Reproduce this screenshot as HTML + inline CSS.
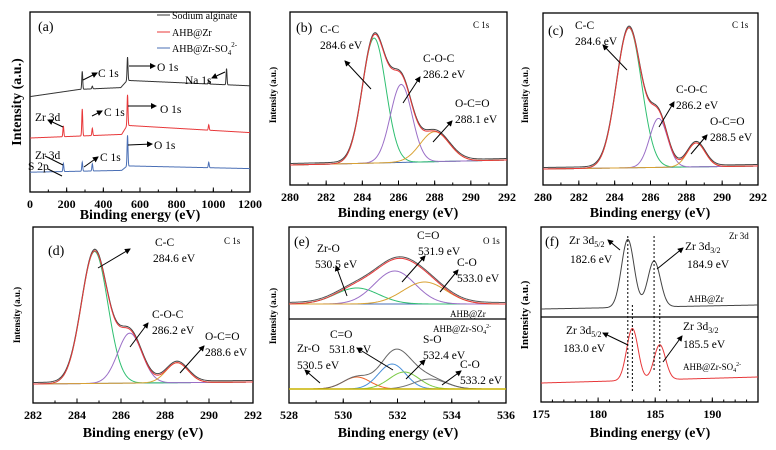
<!DOCTYPE html>
<html><head><meta charset="utf-8">
<style>
body{margin:0;background:#fff;}
svg,text,tspan{font-family:"Liberation Serif","DejaVu Serif",serif;}
.tk{font-weight:bold;font-size:12px;text-anchor:middle;}
.ttl{font-weight:bold;font-size:14px;text-anchor:middle;}
.yt{font-weight:bold;font-size:9px;text-anchor:middle;}
.an{font-size:11.5px;}
.sm{font-size:9px;}
</style></head>
<body>
<svg id="fig" width="776" height="445" viewBox="0 0 776 445" xmlns="http://www.w3.org/2000/svg" font-family="Liberation Serif, DejaVu Serif, serif">
<defs><marker id="ar" markerWidth="6" markerHeight="6" refX="5" refY="3" orient="auto"><path d="M0,0L6,3L0,6z" fill="#000"/></marker></defs>
<g id="layer"></g>
<g>
<text x="38" y="31" style="font-size:14px">(a)</text>
<line x1="157" y1="15" x2="170" y2="15" stroke="#333"/><text x="172" y="19" class="sm" style="font-size:10px">Sodium alginate</text>
<line x1="157" y1="32" x2="170" y2="32" stroke="#e8383a"/><text x="172" y="36" class="sm" style="font-size:10px">AHB@Zr</text>
<line x1="157" y1="48" x2="170" y2="48" stroke="#4a6fb5"/><text x="172" y="52" class="sm" style="font-size:10px">AHB@Zr-SO<tspan font-size="7" dy="3">4</tspan><tspan font-size="7" dy="-8">2-</tspan></text>
<text x="98" y="77" class="an">C 1s</text><text x="157" y="71" class="an">O 1s</text><text x="185" y="84" class="an">Na 1s</text>
<text x="35" y="121" class="an">Zr 3d</text><text x="104" y="116" class="an">C 1s</text><text x="160" y="113" class="an">O 1s</text>
<text x="35" y="159" class="an">Zr 3d</text><text x="28" y="170" class="an">S 2p</text><text x="100" y="161" class="an">C 1s</text><text x="154" y="149" class="an">O 1s</text>
<text transform="translate(21,102) rotate(-90)" class="ttl">Intensity (a.u.)</text>
<text x="140" y="219" class="ttl">Binding energy (eV)</text>
<line x1="83" y1="80" x2="97" y2="73" stroke="#000" marker-end="url(#ar)"/>
<line x1="129" y1="66" x2="155" y2="66" stroke="#000" marker-end="url(#ar)"/>
<line x1="225" y1="72" x2="212" y2="78" stroke="#000" marker-end="url(#ar)"/>
<line x1="92" y1="116" x2="102" y2="111" stroke="#000" marker-end="url(#ar)"/>
<line x1="128" y1="106" x2="156" y2="106" stroke="#000" marker-end="url(#ar)"/>
<line x1="63" y1="127" x2="48" y2="120" stroke="#000" marker-end="url(#ar)"/>
<line x1="84" y1="167" x2="98" y2="157" stroke="#000" marker-end="url(#ar)"/>
<line x1="128" y1="145" x2="152" y2="144" stroke="#000" marker-end="url(#ar)"/>
<line x1="63" y1="165" x2="45" y2="156" stroke="#000"/><line x1="62" y1="176" x2="48" y2="169" stroke="#000"/>
</g>
<g>
<text x="296" y="32" style="font-size:14px">(b)</text>
<text x="320" y="33" class="an">C-C</text><text x="320" y="49" class="an">284.6 eV</text>
<text x="423" y="62" class="an">C-O-C</text><text x="423" y="78" class="an">286.2 eV</text>
<text x="455" y="107" class="an">O-C=O</text><text x="455" y="123" class="an">288.1 eV</text>
<text x="473" y="28" class="sm">C 1s</text>
<text transform="translate(276,95) rotate(-90)" class="yt">Intensity (a.u.)</text>
<text x="398" y="217" class="ttl">Binding energy (eV)</text>
<line x1="371" y1="89" x2="345" y2="61" stroke="#000" marker-end="url(#ar)"/>
<line x1="403" y1="103" x2="420" y2="77" stroke="#000" marker-end="url(#ar)"/>
<line x1="433" y1="142" x2="452" y2="121" stroke="#000" marker-end="url(#ar)"/>
</g>
<g>
<text x="548" y="35" style="font-size:14px">(c)</text>
<text x="575" y="29" class="an">C-C</text><text x="575" y="45" class="an">284.6 eV</text>
<text x="676" y="93" class="an">C-O-C</text><text x="676" y="109" class="an">286.2 eV</text>
<text x="710" y="125" class="an">O-C=O</text><text x="710" y="141" class="an">288.5 eV</text>
<text x="732" y="28" class="sm">C 1s</text>
<text transform="translate(528,95) rotate(-90)" class="yt">Intensity (a.u.)</text>
<text x="650" y="217" class="ttl">Binding energy (eV)</text>
<line x1="627" y1="70" x2="603" y2="45" stroke="#000" marker-end="url(#ar)"/>
<line x1="659" y1="127" x2="674" y2="102" stroke="#000" marker-end="url(#ar)"/>
<line x1="691" y1="154" x2="707" y2="135" stroke="#000" marker-end="url(#ar)"/>
</g>
<g>
<text x="48" y="255" style="font-size:14px">(d)</text>
<text x="155" y="246" class="an">C-C</text><text x="153" y="262" class="an">284.6 eV</text>
<text x="152" y="318" class="an">C-O-C</text><text x="152" y="334" class="an">286.2 eV</text>
<text x="205" y="340" class="an">O-C=O</text><text x="205" y="356" class="an">288.6 eV</text>
<text x="224" y="244" class="sm">C 1s</text>
<text transform="translate(20,315) rotate(-90)" class="yt">Intensity (a.u.)</text>
<text x="143" y="437" class="ttl">Binding energy (eV)</text>
<line x1="98" y1="268" x2="130" y2="249" stroke="#000" marker-end="url(#ar)"/>
<line x1="130" y1="347" x2="148" y2="323" stroke="#000" marker-end="url(#ar)"/>
<line x1="180" y1="373" x2="204" y2="346" stroke="#000" marker-end="url(#ar)"/>
</g>
<g>
<text x="294" y="246" style="font-size:14px">(e)</text>
<text x="317" y="252" class="an">Zr-O</text><text x="315" y="268" class="an">530.5 eV</text>
<text x="417" y="239" class="an">C=O</text><text x="418" y="255" class="an">531.9 eV</text>
<text x="457" y="266" class="an">C-O</text><text x="457" y="282" class="an">533.0 eV</text>
<text x="483" y="244" class="sm">O 1s</text>
<text x="450" y="317" class="sm">AHB@Zr</text>
<text x="433" y="332" class="sm">AHB@Zr-SO<tspan font-size="6" dy="2">4</tspan><tspan font-size="6" dy="-6">2-</tspan></text>
<text x="330" y="338" class="an">C=O</text><text x="329" y="353" class="an">531.8 eV</text>
<text x="297" y="352" class="an">Zr-O</text><text x="297" y="369" class="an">530.5 eV</text>
<text x="423" y="343" class="an">S-O</text><text x="423" y="359" class="an">532.4 eV</text>
<text x="460" y="368" class="an">C-O</text><text x="460" y="384" class="an">533.2 eV</text>
<text transform="translate(276,316) rotate(-90)" class="yt">Intensity (a.u.)</text>
<text x="398" y="437" class="ttl">Binding energy (eV)</text>
<line x1="347" y1="296" x2="336" y2="266" stroke="#000" marker-end="url(#ar)"/>
<line x1="402" y1="282" x2="425" y2="256" stroke="#000" marker-end="url(#ar)"/>
<line x1="440" y1="292" x2="458" y2="270" stroke="#000" marker-end="url(#ar)"/>
<line x1="320" y1="383" x2="305" y2="370" stroke="#000" marker-end="url(#ar)"/>
<line x1="393" y1="370" x2="357" y2="348" stroke="#000" marker-end="url(#ar)"/>
<line x1="406" y1="379" x2="425" y2="360" stroke="#000" marker-end="url(#ar)"/>
<line x1="442" y1="385" x2="461" y2="371" stroke="#000" marker-end="url(#ar)"/>
</g>
<g>
<text x="545" y="246" style="font-size:14px">(f)</text>
<text x="569" y="244" class="an">Zr 3d<tspan font-size="8" dy="3">5/2</tspan></text><text x="570" y="263" class="an">182.6 eV</text>
<text x="685" y="250" class="an">Zr 3d<tspan font-size="8" dy="3">3/2</tspan></text><text x="687" y="268" class="an">184.9 eV</text>
<text x="729" y="239" class="sm">Zr 3d</text>
<text x="688" y="302" class="sm">AHB@Zr</text>
<text x="566" y="334" class="an">Zr 3d<tspan font-size="8" dy="3">5/2</tspan></text><text x="563" y="352" class="an">183.0 eV</text>
<text x="683" y="330" class="an">Zr 3d<tspan font-size="8" dy="3">3/2</tspan></text><text x="683" y="348" class="an">185.5 eV</text>
<text x="683" y="370" class="sm">AHB@Zr-SO<tspan font-size="6" dy="2">4</tspan><tspan font-size="6" dy="-6">2-</tspan></text>
<text transform="translate(528,315) rotate(-90)" class="yt" style="font-size:11px">Intensity (a.u.)</text>
<text x="650" y="437" class="ttl">Binding energy (eV)</text>
<line x1="620" y1="250" x2="608" y2="240" stroke="#000" marker-end="url(#ar)"/>
<line x1="657" y1="269" x2="683" y2="248" stroke="#000" marker-end="url(#ar)"/>
<line x1="628" y1="345" x2="603" y2="333" stroke="#000" marker-end="url(#ar)"/>
<line x1="663" y1="362" x2="682" y2="336" stroke="#000" marker-end="url(#ar)"/>
</g>
</svg>
<script>
const surveyBgBlack = [[0,53],[270,57],[495,58],[530,62],[1200,59]];
const surveyPkBlack = [[285,10],[532,13],[1072,9],[340,1.5],[975,2]];
const surveyBgRed = [[0,30],[500,32],[530,37],[1200,33]];
const surveyPkRed = [[182,6],[285,15],[532,17],[340,4],[975,3]];
const surveyBgBlue = [[0,11],[500,12],[530,14.5],[1200,13]];
const surveyPkBlue = [[182,4.5],[285,5],[532,17],[340,4],[975,3]];
const bPeaks = [[284.65,125,0.65],[286.15,78,0.6],[288.0,30,0.8]];
const bBg = [0,5];
const cPeaks = [[284.8,140,0.7],[286.45,49,0.5],[288.55,24,0.5]];
const cBg = [0,3];
const dPeaks = [[284.8,132,0.6],[286.4,50,0.55],[288.55,20,0.5]];
const dBg = [0,2];
const eTopPeaks = [[530.5,16,0.8],[531.9,33,0.75],[533.0,22,0.8]];
const eBotPeaks = [[530.5,12,0.5],[531.8,25,0.5],[532.25,17,0.55],[533.2,10,0.6]];
const fTopPeaks = [[182.6,68,0.55],[184.9,46,0.55]];
const fTopBg = [0,4];
const fBotPeaks = [[183.0,52,0.5],[185.4,35,0.5]];
const fBotBg = [0,6];
const ticksA = [0,200,400,600,800,1000,1200];
const ticksBC = [280,282,284,286,288,290,292];
const ticksD = [282,284,286,288,290,292];
const ticksE = [528,530,532,534,536];
const ticksF = [175,180,185,190];

const NS='http://www.w3.org/2000/svg';
const layer=document.getElementById('layer');
function mk(tag,attrs){const e=document.createElementNS(NS,tag);for(const k in attrs)e.setAttribute(k,attrs[k]);layer.appendChild(e);return e;}
function gauss(x,p){return p[1]*Math.exp(-((x-p[0])**2)/(2*p[2]*p[2]));}
function interp(pts,x){for(let i=0;i<pts.length-1;i++){if(x<=pts[i+1][0]){const t=(x-pts[i][0])/(pts[i+1][0]-pts[i][0]);return pts[i][1]+t*(pts[i+1][1]-pts[i][1]);}}return pts[pts.length-1][1];}

function frame(P,name){
  const r=mk('rect',{x:P.x0,y:P.y0,width:P.x1-P.x0,height:P.y1-P.y0,fill:'none',stroke:'#000','stroke-width':1.3});
  
  
}
function axis(P,ticks,minor,name){
  const sx=v=>P.x0+(v-P.min)/(P.max-P.min)*(P.x1-P.x0);
  for(let v=P.min;v<=P.max+1e-9;v+=minor){mk('line',{x1:sx(v),x2:sx(v),y1:P.y1,y2:P.y1-2.5,stroke:'#000'});}
  ticks.forEach(t=>{
    mk('line',{x1:sx(t),x2:sx(t),y1:P.y1,y2:P.y1-4.5,stroke:'#000'});
    const tx=mk('text',{x:sx(t),y:P.y1+16,class:'tk'});
    tx.textContent=t;
    
    
  });
  return sx;
}
function curve(P,sx,base,fn,color,name,step,w){
  let d='';
  for(let x=P.min;x<=P.max+1e-9;x+=step){const y=base-fn(x);d+=(d?'L':'M')+sx(x).toFixed(2)+','+y.toFixed(2);}
  const p=mk('path',{d:d,fill:'none',stroke:color,'stroke-width':w||1});
  
  
}
function fitPanel(P,sx,base,peaks,bg,colors,env,raw,name,step){
  const bgf=x=>bg[0]+(x-P.min)/(P.max-P.min)*(bg[1]-bg[0]);
  curve(P,sx,base,bgf,'#4a6fb5',name+'-background',step);
  peaks.forEach((pk,i)=>curve(P,sx,base,x=>gauss(x,pk)+bgf(x),colors[i],name+'-component-'+i,step));
  const sum=x=>peaks.reduce((s,pk)=>s+gauss(x,pk),0)+bgf(x);
  if(raw) curve(P,sx,base-1.5,sum,raw,name+'-raw',step);
  if(env) curve(P,sx,base,sum,env,name+'-envelope',step);
}

const PA={x0:30,y0:12,x1:250,y1:192,min:0,max:1200};
frame(PA,'panel-a');
const sxa=axis(PA,ticksA,100,'panel-a');
[[surveyBgBlack,surveyPkBlack,'#333','survey-sodium-alginate'],[surveyBgRed,surveyPkRed,'#e8383a','survey-ahb-zr'],[surveyBgBlue,surveyPkBlue,'#4a6fb5','survey-ahb-zr-so4']].forEach(s=>{
  curve(PA,sxa,192,x=>1.8*(interp(s[0],x)+s[1].reduce((a,p)=>a+gauss(x,[p[0],p[1],2.5]),0)),s[2],s[3],1,1);
});
const C3=['#2fbf71','#9b6fc7','#d9a233'];
const PB={x0:290,y0:12,x1:507,y1:185,min:280,max:292};
frame(PB,'panel-b');const sxb=axis(PB,ticksBC,1,'panel-b');
fitPanel(PB,sxb,165,bPeaks,bBg,C3,'#e8383a','#444','panel-b',0.05);
const PC={x0:543,y0:13,x1:758,y1:185,min:280,max:292};
frame(PC,'panel-c');const sxc=axis(PC,ticksBC,1,'panel-c');
fitPanel(PC,sxc,169,cPeaks,cBg,C3,'#e8383a','#444','panel-c',0.05);
const PD={x0:33,y0:227,x1:253,y1:403,min:282,max:292};
frame(PD,'panel-d');const sxd=axis(PD,ticksD,1,'panel-d');
fitPanel(PD,sxd,384,dPeaks,dBg,C3,'#e8383a','#444','panel-d',0.05);
const PE={x0:289,y0:227,x1:506,y1:403,min:528,max:536};
frame(PE,'panel-e');const sxe=axis(PE,ticksE,1,'panel-e');
mk('line',{x1:289,x2:506,y1:319,y2:319,stroke:'#000','stroke-width':1.3});
fitPanel(PE,sxe,304,eTopPeaks,[0,0],['#2fbf71','#9b6fc7','#d9a233'],'#e8383a','#555','panel-e-top',0.04);
fitPanel(PE,sxe,389,eBotPeaks,[0,0],['#f0642a','#4a90d9','#7ac943','#777'],'#666',null,'panel-e-bottom',0.04);
mk('line',{x1:289,x2:506,y1:389,y2:389,stroke:'#c9b400','stroke-width':1.5});
const PF={x0:541,y0:227,x1:758,y1:402,min:175,max:194};
frame(PF,'panel-f');const sxf=axis(PF,ticksF,1,'panel-f');
mk('line',{x1:541,x2:758,y1:317,y2:317,stroke:'#000','stroke-width':1.3});
const fbgT=x=>fTopBg[0]+(x-175)/19*(fTopBg[1]-fTopBg[0]);
curve(PF,sxf,309,x=>fTopPeaks.reduce((s,p)=>s+gauss(x,p),0)+fbgT(x),'#444','panel-f-ahb-zr',0.05);
const fbgB=x=>fBotBg[0]+(x-175)/19*(fBotBg[1]-fBotBg[0]);
curve(PF,sxf,383,x=>fBotPeaks.reduce((s,p)=>s+gauss(x,p),0)+fbgB(x),'#e8383a','panel-f-ahb-zr-so4',0.05);
[[fTopPeaks[0][0],236,380],[fTopPeaks[1][0],236,370],[fBotPeaks[0][0],305,392],[fBotPeaks[1][0],305,392]].forEach(v=>{
  const l=mk('line',{x1:sxf(v[0]),x2:sxf(v[0]),y1:v[1],y2:v[2],stroke:'#000','stroke-dasharray':'2,2'});
  
  
});
</script>
</body></html>
